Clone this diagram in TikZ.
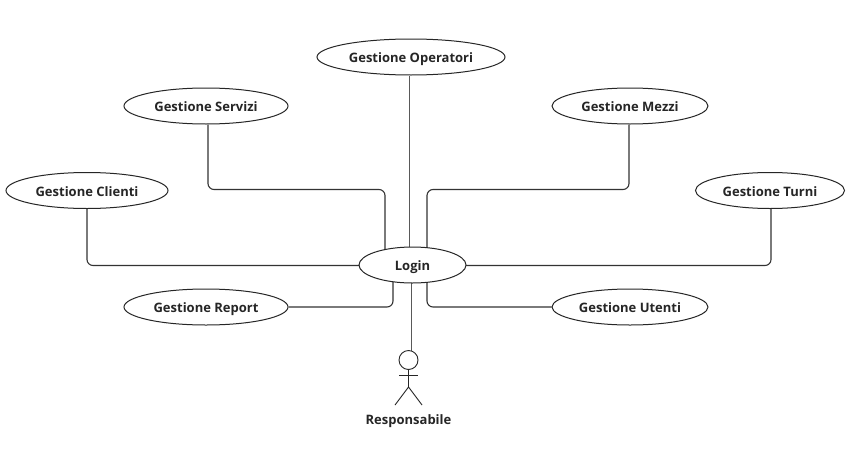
\documentclass[tikz,border=0pt]{standalone}
\usepackage{fontspec}
\setmainfont{Open Sans}
\usetikzlibrary{shapes.geometric,backgrounds}
\tikzset{
  usecase/.style={ellipse,draw=black!85,line width=1pt,fill=white,inner sep=0pt,minimum height=36pt,text height=11.8pt,text depth=0pt,font=\fontsize{13}{15}\selectfont\bfseries,text=black!85},
  conn/.style={draw=black!80,line width=1.1pt,rounded corners=6pt},
  vconn/.style={draw=black!65,line width=1pt},
  stick/.style={draw=black!85,line width=0.9pt},
  actorlabel/.style={font=\fontsize{13}{15}\selectfont\bfseries,text=black!85,inner sep=0pt}
}
\begin{document}
\begin{tikzpicture}[x=1pt,y=-1pt]
\useasboundingbox (0,0) rectangle (858,463);
\node[usecase,minimum width=162pt] (cli) at (87,190.5) {Gestione Clienti};
\node[usecase,minimum width=164pt] (srv) at (206,106) {Gestione Servizi};
\node[usecase,minimum width=188pt] (ope) at (411,57) {Gestione Operatori};
\node[usecase,minimum width=156pt] (mez) at (630,106) {Gestione Mezzi};
\node[usecase,minimum width=149pt] (tur) at (770,190.5) {Gestione Turni};
\node[usecase,minimum width=164pt] (rep) at (206,307) {Gestione Report};
\node[usecase,minimum width=156pt] (ute) at (630,307) {Gestione Utenti};
\node[usecase,minimum width=107pt] (log) at (412.5,265) {Login};
\node[stick,circle,minimum size=19pt,inner sep=0pt] (head) at (408.5,360) {};
\node[actorlabel] (act) at (408.5,421) {Responsabile};
\coordinate (arml) at (399,375.5);
\coordinate (armr) at (418,375.5);
\coordinate (hip) at (408.5,387);
\coordinate (legl) at (395,405);
\coordinate (legr) at (422,405);
\coordinate (c1) at (208,189.5);
\coordinate (c2) at (385,189.5);
\coordinate (c3) at (629,189.5);
\coordinate (c4) at (427,189.5);
\coordinate (c5) at (87,265.5);
\coordinate (c6) at (771,265.5);
\coordinate (c7) at (393,307);
\coordinate (c8) at (427,307);
\coordinate (up) at (409.6,265);
\coordinate (dn) at (411,265);
\begin{pgfonlayer}{background}
\fill[white] (0,0) rectangle (858,463);
\draw[conn] (c1 |- srv.south) -- (c1) -- (c2) -- (c2 |- log.center);
\draw[conn] (c3 |- mez.south) -- (c3) -- (c4) -- (c4 |- log.center);
\draw[conn] (c5 |- cli.south) -- (c5) -- (log.center |- c5);
\draw[conn] (c6 |- tur.south) -- (c6) -- (log.center |- c6);
\draw[conn] (rep.east) -- (c7) -- (c7 |- log.center);
\draw[conn] (ute.west) -- (c8) -- (c8 |- log.center);
\draw[vconn] (up |- ope.south) -- (up);
\draw[vconn] (dn) -- ([yshift=-1pt]dn |- head.north);
\end{pgfonlayer}
\draw[stick] (head.south) -- (hip);
\draw[stick] (arml) -- (armr);
\draw[stick] (legl) -- (hip) -- (legr);
\end{tikzpicture}
\end{document}
